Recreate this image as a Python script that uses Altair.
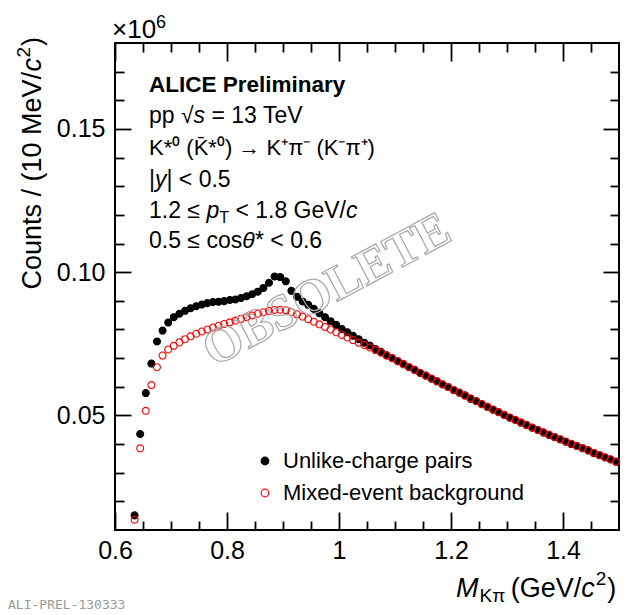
import altair as alt
import pandas as pd

# K*0 invariant-mass bins (GeV/c^2), 10 MeV wide
MASS = [
    0.635, 0.645, 0.655, 0.665, 0.675, 0.685, 0.695, 0.705, 0.715, 0.725,
    0.735, 0.745, 0.755, 0.765, 0.775, 0.785, 0.795, 0.805, 0.815, 0.825,
    0.835, 0.845, 0.855, 0.865, 0.875, 0.885, 0.895, 0.905, 0.915, 0.925,
    0.935, 0.945, 0.955, 0.965, 0.975, 0.985, 0.995, 1.005, 1.015, 1.025,
    1.035, 1.045, 1.055, 1.065, 1.075, 1.085, 1.095, 1.105, 1.115, 1.125,
    1.135, 1.145, 1.155, 1.165, 1.175, 1.185, 1.195, 1.205, 1.215, 1.225,
    1.235, 1.245, 1.255, 1.265, 1.275, 1.285, 1.295, 1.305, 1.315, 1.325,
    1.335, 1.345, 1.355, 1.365, 1.375, 1.385, 1.395, 1.405, 1.415, 1.425,
    1.435, 1.445, 1.455, 1.465, 1.475, 1.485, 1.495,
]
# counts in units of 10^6
UNLIKE = [
    0.0151, 0.0435, 0.0578, 0.0681, 0.0758, 0.0796, 0.0824, 0.0843, 0.0855, 0.0865,
    0.0874, 0.0881, 0.0887, 0.0892, 0.0896, 0.0897, 0.0899, 0.0903, 0.0905, 0.0910,
    0.0916, 0.0923, 0.0932, 0.0945, 0.0963, 0.0985, 0.0983, 0.0968, 0.0935, 0.0914,
    0.0898, 0.0886, 0.0872, 0.0857, 0.0843, 0.0829, 0.0816, 0.0802, 0.0790, 0.0778,
    0.0766, 0.0754, 0.0744, 0.0732, 0.0722, 0.0710, 0.0700, 0.0689, 0.0679, 0.0668,
    0.0659, 0.0648, 0.0639, 0.0628, 0.0619, 0.0608, 0.0599, 0.0588, 0.0579, 0.0570,
    0.0558, 0.0550, 0.0539, 0.0530, 0.0520, 0.0511, 0.0502, 0.0492, 0.0484, 0.0475,
    0.0466, 0.0457, 0.0449, 0.0440, 0.0432, 0.0424, 0.0416, 0.0408, 0.0400, 0.0393,
    0.0385, 0.0378, 0.0368, 0.0361, 0.0353, 0.0346, 0.0338,
]
MIXED = [
    0.0136, 0.0385, 0.0516, 0.0606, 0.0668, 0.0709, 0.0730, 0.0743, 0.0755, 0.0766,
    0.0776, 0.0785, 0.0793, 0.0800, 0.0807, 0.0813, 0.0819, 0.0825, 0.0831, 0.0837,
    0.0843, 0.0849, 0.0855, 0.0860, 0.0865, 0.0868, 0.0869, 0.0867, 0.0861, 0.0853,
    0.0845, 0.0836, 0.0827, 0.0818, 0.0809, 0.0800, 0.0790, 0.0781, 0.0772, 0.0763,
    0.0754, 0.0746, 0.0737, 0.0728, 0.0719, 0.0709, 0.0700, 0.0690, 0.0679, 0.0669,
    0.0659, 0.0649, 0.0639, 0.0629, 0.0619, 0.0609, 0.0599, 0.0589, 0.0580, 0.0569,
    0.0560, 0.0550, 0.0540, 0.0530, 0.0521, 0.0512, 0.0502, 0.0493, 0.0484, 0.0475,
    0.0467, 0.0458, 0.0449, 0.0441, 0.0433, 0.0425, 0.0417, 0.0409, 0.0401, 0.0393,
    0.0386, 0.0378, 0.0370, 0.0362, 0.0354, 0.0347, 0.0339,
]
SERIES = ["Unlike-charge pairs", "Mixed-event background"]

X_MAJOR = [0.6, 0.8, 1.0, 1.2, 1.4]
X_MINOR = [0.65, 0.7, 0.75, 0.85, 0.9, 0.95, 1.05, 1.1, 1.15, 1.25, 1.3, 1.35, 1.45]
Y_MAJOR = [0.05, 0.10, 0.15]
Y_MINOR = [0.02, 0.03, 0.04, 0.06, 0.07, 0.08, 0.09, 0.11, 0.12, 0.13, 0.14, 0.16, 0.17]

W, H = 504, 487
FONT = "Liberation Sans"

df = pd.DataFrame(
    {
        "mass": MASS + MASS,
        "counts": UNLIKE + MIXED,
        "series": [SERIES[0]] * len(MASS) + [SERIES[1]] * len(MASS),
    }
)

x_scale = alt.Scale(domain=[0.6, 1.5], nice=False, zero=False)
y_scale = alt.Scale(domain=[0.01, 0.18], nice=False, zero=False)


def tick_axis(orient, offset, values, size):
    # inward ROOT-style ticks: flip the orient and pull the axis across the frame
    return alt.Axis(
        orient=orient, offset=offset, values=values, tickSize=size, tickWidth=1.8,
        tickColor="black", labels=False, domain=False, grid=False, title=None,
    )


def axis_layer(x_axis, y_axis):
    return alt.Chart(df).mark_point(opacity=0, size=0).encode(
        x=alt.X("mass:Q", scale=x_scale, axis=x_axis),
        y=alt.Y("counts:Q", scale=y_scale, axis=y_axis),
    )


def label(text, x, y, size=23, style="normal", weight="normal", align="left",
          angle=0, font=FONT, color="black"):
    return alt.Chart(pd.DataFrame({"t": [text]})).mark_text(
        align=align, baseline="alphabetic", font=font, fontSize=size, fontStyle=style,
        fontWeight=weight, angle=angle, color=color,
    ).encode(x=alt.value(x), y=alt.value(y), text="t:N")


label_axes = axis_layer(
    alt.Axis(orient="bottom", values=X_MAJOR, format="~g", ticks=False, tickSize=0,
             domain=False, grid=False, labelFont=FONT, labelFontSize=25,
             labelColor="black", labelPadding=8, labelFlush=False,
             labelOverlap=False, title=None),
    alt.Axis(orient="left", values=Y_MAJOR, format=".2f", ticks=False, tickSize=0,
             domain=False, grid=False, labelFont=FONT, labelFontSize=25,
             labelColor="black", labelPadding=10, labelOverlap=False, title=None),
)
tick_layers = [
    axis_layer(tick_axis("top", -H, X_MAJOR, 18), tick_axis("right", -W, Y_MAJOR, 16)),
    axis_layer(tick_axis("top", -H, X_MINOR, 9), tick_axis("right", -W, Y_MINOR, 9)),
    axis_layer(tick_axis("bottom", -H, X_MAJOR, 18), tick_axis("left", -W, Y_MAJOR, 16)),
    axis_layer(tick_axis("bottom", -H, X_MINOR, 9), tick_axis("left", -W, Y_MINOR, 9)),
]

legend = alt.Legend(
    title=None, orient="none", legendX=139, legendY=407, labelFont=FONT,
    labelFontSize=22, labelColor="black", labelLimit=0, symbolSize=58,
    symbolStrokeWidth=1.2, rowPadding=10, labelOffset=7, padding=0,
)
points = alt.Chart(df).mark_point(size=48, strokeWidth=1.1, opacity=1).encode(
    x=alt.X("mass:Q", scale=x_scale, axis=None),
    y=alt.Y("counts:Q", scale=y_scale, axis=None),
    color=alt.Color("series:N", scale=alt.Scale(domain=SERIES, range=["black", "#ff0000"]),
                    legend=legend),
    fill=alt.Fill("series:N", scale=alt.Scale(domain=SERIES, range=["black", "transparent"]),
                  legend=legend),
)

watermark = alt.Chart(pd.DataFrame({"t": ["OBSOLETE"]})).mark_text(
    align="center", baseline="middle", font="Liberation Serif", fontSize=50,
    fontWeight="bold", angle=332, fill="transparent", stroke="#a8a8a8", strokeWidth=1.2,
).encode(x=alt.value(212), y=alt.value(247), text="t:N")

texts = [
    label("ALICE Preliminary", 34, 49, size=22.5, weight="bold"),
    label("pp √", 34, 80),
    label("s", 78.6, 80, style="italic"),
    label("= 13 TeV", 96.5, 80),
    label("K*⁰ (K̄*⁰) → K⁺π⁻ (K⁻π⁺)", 34, 112, size=22),
    label("|", 34, 144),
    label("y", 40, 144, style="italic"),
    label("| < 0.5", 51.5, 144),
    label("1.2 ≤", 34, 175),
    label("p", 91.4, 175, style="italic"),
    label("T", 104.2, 180, size=16),
    label("< 1.8 GeV/", 120.4, 175),
    label("c", 231, 175, style="italic"),
    label("0.5 ≤ cos", 34, 205),
    label("θ", 127.2, 205, style="italic"),
    label("* < 0.6", 140, 205),
    # x title, laid out left to right
    label("M", 341, 554, size=27, style="italic"),
    label("Kπ", 364.5, 559, size=19),
    label("(GeV/", 395.7, 554, size=27),
    label("c", 466.2, 554, size=27, style="italic"),
    label("2", 480.7, 542, size=19),
    label(")", 492.3, 554, size=27),
    # y title, rotated, laid out from the top end downwards
    label(")", -74, -6, size=27, align="right", angle=270),
    label("2", -85, 4, size=19, align="right", angle=270),
    label("c", -74, 15, size=27, style="italic", align="right", angle=270),
    label("Counts / (10 MeV/", -74, 29, size=27, align="right", angle=270),
    # exponent
    label("×10", -3, -5, size=26),
    label("6", 41, -15, size=18),
    label("ALI-PREL-130333", -107, 566, size=13, font="DejaVu Sans Mono", color="#999999"),
]

chart = (
    alt.layer(label_axes, *tick_layers, points, watermark, *texts)
    .resolve_axis(x="independent", y="independent")
    .properties(
        width=W,
        height=H,
        autosize=alt.AutoSizeParams(type="none"),
        padding={"left": 107, "top": 35, "right": 13, "bottom": 85},
    )
    .configure_view(stroke="black", strokeWidth=2)
)

chart.save("out.html", embed_options={"renderer": "svg", "actions": False})
